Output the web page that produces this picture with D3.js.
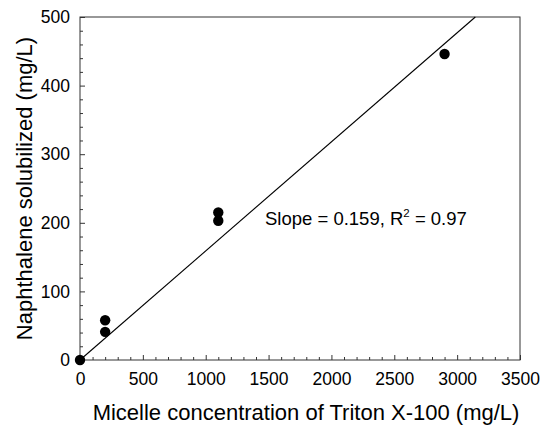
<!DOCTYPE html>
<html>
<head>
<meta charset="utf-8">
<script src="https://cdn.jsdelivr.net/npm/d3@7"></script>
<style>
  html, body { margin: 0; padding: 0; background: #fff; }
  svg { display: block; font-family: "Liberation Sans", Arial, sans-serif; }
</style>
</head>
<body>
<svg id="chart" width="545" height="425"></svg>
<script>
// Micelle concentration (mg/L) and naphthalene solubilized (mg/L)
const micelleConc = [0, 200, 200, 1100, 1100, 2900];
const naphthalene = [0, 41, 58, 203, 215, 446];
// Linear fit through the origin
const fitSlope = 0.159;
const fitR2 = 0.97;
const xTicks = [0, 500, 1000, 1500, 2000, 2500, 3000, 3500];
const yTicks = [0, 100, 200, 300, 400, 500];

const svg = d3.select("#chart");
const margin = { left: 80, right: 25, top: 17, bottom: 65 };
const W = 545, H = 425;
const x = d3.scaleLinear().domain([0, 3500]).range([margin.left, W - margin.right]);
const y = d3.scaleLinear().domain([0, 500]).range([H - margin.bottom, margin.top]);

const axisColor = "#333";

// frame
svg.append("rect")
  .attr("x", x(0)).attr("y", y(500))
  .attr("width", x(3500) - x(0)).attr("height", y(0) - y(500))
  .attr("fill", "none").attr("stroke", axisColor).attr("stroke-width", 1);

// minor ticks (inside)
const xMinor = d3.range(0, 3501, 100).filter(v => v % 500 !== 0);
const yMinor = d3.range(0, 501, 20).filter(v => v % 100 !== 0);

const gx = svg.append("g").attr("transform", `translate(0,${y(0)})`);
gx.call(d3.axisBottom(x).tickValues(xTicks).tickSize(-5).tickPadding(13).tickFormat(d3.format("d")));
gx.append("g").call(d3.axisBottom(x).tickValues(xMinor).tickSize(-3).tickFormat(""));
gx.selectAll(".domain").remove();
gx.selectAll("line").attr("stroke", axisColor);
gx.selectAll("text").attr("font-size", 17.5).attr("fill", "#000")
  .attr("font-family", "Liberation Sans, Arial, sans-serif");

const gy = svg.append("g").attr("transform", `translate(${x(0)},0)`);
gy.call(d3.axisLeft(y).tickValues(yTicks).tickSize(-5).tickPadding(10).tickFormat(d3.format("d")));
gy.append("g").call(d3.axisLeft(y).tickValues(yMinor).tickSize(-3).tickFormat(""));
gy.selectAll(".domain").remove();
gy.selectAll("line").attr("stroke", axisColor);
gy.selectAll("text").attr("font-size", 17.5).attr("fill", "#000")
  .attr("font-family", "Liberation Sans, Arial, sans-serif");

// regression line, clipped to the plot top
const xEnd = Math.min(3500, 500 / fitSlope);
svg.append("line")
  .attr("x1", x(0)).attr("y1", y(0))
  .attr("x2", x(xEnd)).attr("y2", y(fitSlope * xEnd))
  .attr("stroke", "#000").attr("stroke-width", 1.1);

// data points
svg.append("g").selectAll("circle")
  .data(micelleConc.map((c, i) => ({ c, n: naphthalene[i] })))
  .join("circle")
  .attr("cx", d => x(d.c)).attr("cy", d => y(d.n))
  .attr("r", 5.2).attr("fill", "#000");

// fit annotation
const ann = svg.append("text")
  .attr("x", 265).attr("y", 225)
  .attr("font-size", 18.5).attr("fill", "#000");
ann.append("tspan").text(`Slope = ${fitSlope}, R`);
ann.append("tspan").attr("font-size", 11.5).attr("dy", -8).text("2");
ann.append("tspan").attr("dy", 8).text(` = ${fitR2}`);

// axis titles
svg.append("text")
  .attr("x", 306).attr("y", 420)
  .attr("text-anchor", "middle").attr("font-size", 22).attr("fill", "#000")
  .text("Micelle concentration of Triton X-100 (mg/L)");

svg.append("text")
  .attr("transform", `translate(32,${(y(0) + y(500)) / 2}) rotate(-90)`)
  .attr("text-anchor", "middle").attr("font-size", 22).attr("fill", "#000")
  .text("Naphthalene solubilized (mg/L)");
</script>
</body>
</html>
